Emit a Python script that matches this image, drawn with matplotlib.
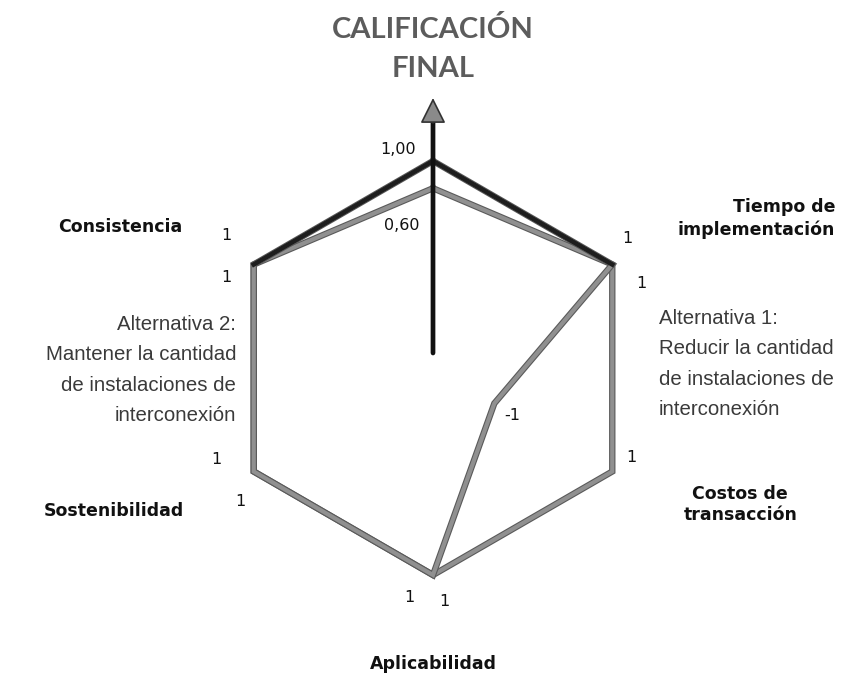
import numpy as np
import matplotlib
matplotlib.use("Agg")
import matplotlib.pyplot as plt
import matplotlib.patheffects as pe

# criteria, clockwise from the top axis
categories = ["CALIFICACIÓN\nFINAL", "Tiempo de\nimplementación", "Costos de\ntransacción",
              "Aplicabilidad", "Sostenibilidad", "Consistencia"]
angles_deg = [90, 30, -30, -90, -150, 150]

alt1_values = [1.00, 1, -1, 1, 1, 1]
alt2_values = [0.60, 1, 1, 1, 1, 1]
alt1_labels = ["1,00", "1", "-1", "1", "1", "1"]
alt2_labels = ["0,60", "1", "1", "1", "1", "1"]

alt1_name = "Alternativa 1:\nReducir la cantidad\nde instalaciones de\ninterconexión"
alt2_name = "Alternativa 2:\nMantener la cantidad\nde instalaciones de\ninterconexión"

plt.rcParams["font.family"] = ["Liberation Sans", "DejaVu Sans"]

fig = plt.figure(figsize=(8.41, 6.74), dpi=100)
W, H = 841, 674
cx, cy, R = 433, 368, 207
ax = fig.add_axes([(cx - R) / W, (H - cy - R) / H, 2 * R / W, 2 * R / H], projection="polar")
ax.set_ylim(-2.04, 1.0)
ax.axis("off")

theta = np.deg2rad(angles_deg)
th_closed = np.append(theta, theta[0])

outline = [pe.Stroke(linewidth=4.6, foreground="#5a5a5a"), pe.Normal()]


def close(v):
    return np.append(v, v[0])


# Alternativa 2 polygon
ax.plot(th_closed, close(alt2_values), color="#909090", lw=3.0,
        solid_joinstyle="miter", path_effects=outline, clip_on=False, zorder=3)
# Alternativa 1 polygon
ax.plot(th_closed, close(alt1_values), color="#909090", lw=3.0,
        solid_joinstyle="miter", path_effects=outline, clip_on=False, zorder=3)
# the peak of alternativa 1 is drawn dark
peak = [-1, 0, 1]
ax.plot(theta[peak], np.array(alt1_values)[peak], color="#1e1e1e", lw=3.3,
        solid_joinstyle="miter", clip_on=False, zorder=4)

# vertical arrow of the final score: shaft, then head
ax.annotate("", xy=(0.5, 0.5 + 250 / (2 * R)), xytext=(0.5, 0.5 + 15 / (2 * R)),
            xycoords="axes fraction", textcoords="axes fraction", annotation_clip=False,
            arrowprops=dict(arrowstyle="-", lw=3.4, color="#111111",
                            shrinkA=0, shrinkB=0), zorder=5)
ax.annotate("", xy=(0.5, 0.5 + 270 / (2 * R)), xytext=(0.5, 0.5 + 245 / (2 * R)),
            xycoords="axes fraction", textcoords="axes fraction", annotation_clip=False,
            arrowprops=dict(arrowstyle="-|>,head_length=0.8,head_width=0.4",
                            mutation_scale=20, lw=1.2, ec="#333333", fc="#8a8a8a",
                            shrinkA=0, shrinkB=0), zorder=6)

# value labels (pixel offsets from each point)
num_font = ["DejaVu Sans"]
off1 = [(-35, 12), (15, 26), (18, -12), (-24, -22), (-37, 12), (-27, 29)]
off2 = [(-31, -37), (29, -19), (19, 14), (11, -27), (-13, -30), (-27, -13)]
for t, v, s, o in zip(theta, alt1_values, alt1_labels, off1):
    ax.annotate(s, xy=(t, v), xytext=o, textcoords="offset pixels",
                ha="center", va="center", fontsize=11.5, color="#111111",
                family=num_font, annotation_clip=False)
for t, v, s, o in zip(theta, alt2_values, alt2_labels, off2):
    ax.annotate(s, xy=(t, v), xytext=o, textcoords="offset pixels",
                ha="center", va="center", fontsize=11.5, color="#111111",
                family=num_font, annotation_clip=False)

# criteria names
cat_off = [(0, 112), (223, 46), (128, -33), (0, -89), (-140, -40), (-133, 37)]
cat_ha = ["center", "right", "center", "center", "center", "center"]
for i, (t, name, o, ha) in enumerate(zip(theta, categories, cat_off, cat_ha)):
    if i == 0:
        ax.annotate(name, xy=(t, 1), xytext=o, textcoords="offset pixels",
                    ha="center", va="center", fontsize=21, fontweight="bold",
                    family=["Lato", "DejaVu Sans"], color="#5c5c5c",
                    linespacing=1.6, annotation_clip=False)
    else:
        ax.annotate(name, xy=(t, 1), xytext=o, textcoords="offset pixels",
                    ha=ha, va="center", multialignment="center" if ha == "center" else "right",
                    fontsize=12.5, fontweight="bold", color="#111111",
                    family=["DejaVu Sans"], linespacing=1.25, annotation_clip=False)

# alternative names
fig.text(659 / W, 1 - 364 / H, alt1_name, ha="left", va="center", fontsize=14.7,
         color="#3a3a3a", linespacing=1.75)
fig.text(236 / W, 1 - 370 / H, alt2_name, ha="right", va="center", fontsize=14.7,
         color="#3a3a3a", linespacing=1.75, multialignment="right")

fig.savefig("out.png", dpi=100, facecolor="white")
